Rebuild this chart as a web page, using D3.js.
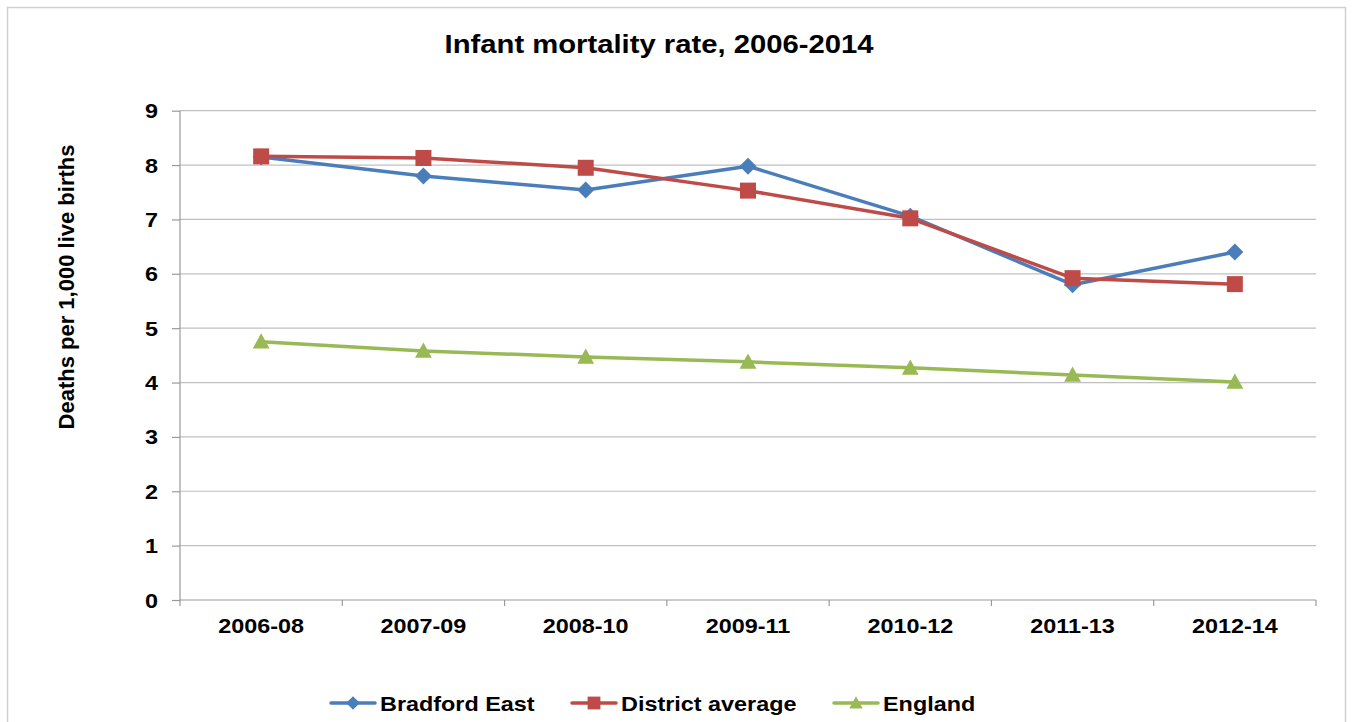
<!DOCTYPE html>
<html><head><meta charset="utf-8">
<script src="https://cdn.jsdelivr.net/npm/d3@7"></script>
<style>body{margin:0;background:#fff;} svg{display:block;font-family:"Liberation Sans",Arial,sans-serif;}</style>
</head><body>
<svg id="c" width="1352" height="722"></svg>
<script>
const categories = ["2006-08","2007-09","2008-10","2009-11","2010-12","2011-13","2012-14"];
const bradfordEast = [8.15, 7.80, 7.54, 7.98, 7.06, 5.80, 6.40];
const districtAverage = [8.16, 8.13, 7.95, 7.53, 7.02, 5.92, 5.81];
const england = [4.75, 4.58, 4.47, 4.38, 4.27, 4.14, 4.01];
const yTicks = [0,1,2,3,4,5,6,7,8,9];
const seriesNames = ["Bradford East","District average","England"];
const colors = ["#4a7ebb","#be4b48","#98b954"];
const title = "Infant mortality rate, 2006-2014";
const yLabel = "Deaths per 1,000 live births";

const SX = 1.17; // horizontal text stretch
const svg = d3.select("#c");
svg.append("rect").attr("x",7.5).attr("y",7.5).attr("width",1338).attr("height",730)
  .attr("fill","#fff").attr("stroke","#d0d0d0").attr("stroke-width",1.5);

const L=180, R=1316, T=110.7, B=600;
const x = d3.scaleBand().domain(categories).range([L,R]);
const y = d3.scaleLinear().domain([0,9]).range([B,T]);

// gridlines
svg.append("g").selectAll("line").data(yTicks.filter(d=>d>0)).join("line")
  .attr("x1",L).attr("x2",R).attr("y1",d=>y(d)).attr("y2",d=>y(d))
  .attr("stroke","#c0c0c0").attr("stroke-width",1.2);

// y axis
const ya = svg.append("g").attr("transform",`translate(${L},0)`)
  .call(d3.axisLeft(y).tickValues(yTicks).tickSize(8).tickPadding(0).tickFormat(d3.format("d")));
ya.select(".domain").attr("stroke","#9a9a9a").attr("stroke-width",1.2).attr("d",`M0,${T}V${B}`);
ya.selectAll(".tick line").attr("stroke","#9a9a9a").attr("stroke-width",1.2);
ya.selectAll("text").attr("font-size",20).attr("font-weight","bold").attr("fill","#000")
  .attr("font-family","Liberation Sans, Arial, sans-serif")
  .attr("x",0).attr("dy","0.35em").attr("transform",`translate(-22,0) scale(${SX},1)`);

// x axis
const xa = svg.append("g").attr("transform",`translate(0,${B})`)
  .call(d3.axisBottom(x).tickSize(0).tickPadding(0));
xa.select(".domain").attr("stroke","#9a9a9a").attr("stroke-width",1.2).attr("d",`M${L},0H${R}`);
xa.selectAll("text").attr("font-size",20).attr("font-weight","bold").attr("fill","#000")
  .attr("font-family","Liberation Sans, Arial, sans-serif")
  .attr("y",33).attr("dy",0).attr("transform",`scale(${SX},1)`);
// category boundary ticks
const bounds = categories.map(c=>x(c)).concat([R]);
svg.append("g").selectAll("line").data(bounds).join("line")
  .attr("x1",d=>d).attr("x2",d=>d).attr("y1",B).attr("y2",B+6)
  .attr("stroke","#9a9a9a").attr("stroke-width",1.2);

// title
svg.append("text").attr("transform",`translate(659,53) scale(${SX},1)`).attr("text-anchor","middle")
  .attr("font-size",25).attr("font-weight","bold").text(title);
// y label
svg.append("text").attr("transform",`translate(74,287) rotate(-90)`).attr("text-anchor","middle")
  .attr("font-size",22).attr("font-weight","bold").text(yLabel);

// marker shapes
const diamond = {draw(ctx, s){ ctx.moveTo(0,-s); ctx.lineTo(s,0); ctx.lineTo(0,s); ctx.lineTo(-s,0); ctx.closePath(); }};
const square = {draw(ctx, s){ ctx.rect(-s,-s,2*s,2*s); }};
const triangle = {draw(ctx, s){ ctx.moveTo(0,-s*1.05); ctx.lineTo(s*1.05,s*0.85); ctx.lineTo(-s*1.05,s*0.85); ctx.closePath(); }};
const symbols = [diamond, square, triangle];
const sizes = [8.5, 8, 8];

const allSeries = [bradfordEast, districtAverage, england];
const cx = c => x(c)+x.bandwidth()/2;
const line = d3.line().x((d,i)=>cx(categories[i])).y(d=>y(d));

allSeries.forEach((s,k)=>{
  svg.append("path").datum(s).attr("d",line).attr("fill","none")
    .attr("stroke",colors[k]).attr("stroke-width",3.5).attr("stroke-linejoin","round");
});
allSeries.forEach((s,k)=>{
  svg.append("g").selectAll("path").data(s).join("path")
    .attr("transform",(d,i)=>`translate(${cx(categories[i])},${y(d)})`)
    .attr("d",d3.symbol().type(symbols[k]).size(sizes[k]))
    .attr("fill",colors[k]);
});

// legend
const legX = [331, 572, 834];
seriesNames.forEach((n,k)=>{
  const g = svg.append("g").attr("transform",`translate(${legX[k]},703)`);
  g.append("line").attr("x1",0).attr("x2",44).attr("y1",0).attr("y2",0)
    .attr("stroke",colors[k]).attr("stroke-width",3.5).attr("stroke-linecap","round");
  g.append("path").attr("transform","translate(22,0)")
    .attr("d",d3.symbol().type(symbols[k]).size(sizes[k]*0.8)).attr("fill",colors[k]);
  g.append("text").attr("transform",`translate(49,8) scale(${SX},1)`).attr("font-size",20).attr("font-weight","bold").text(n);
});
</script>
</body></html>
